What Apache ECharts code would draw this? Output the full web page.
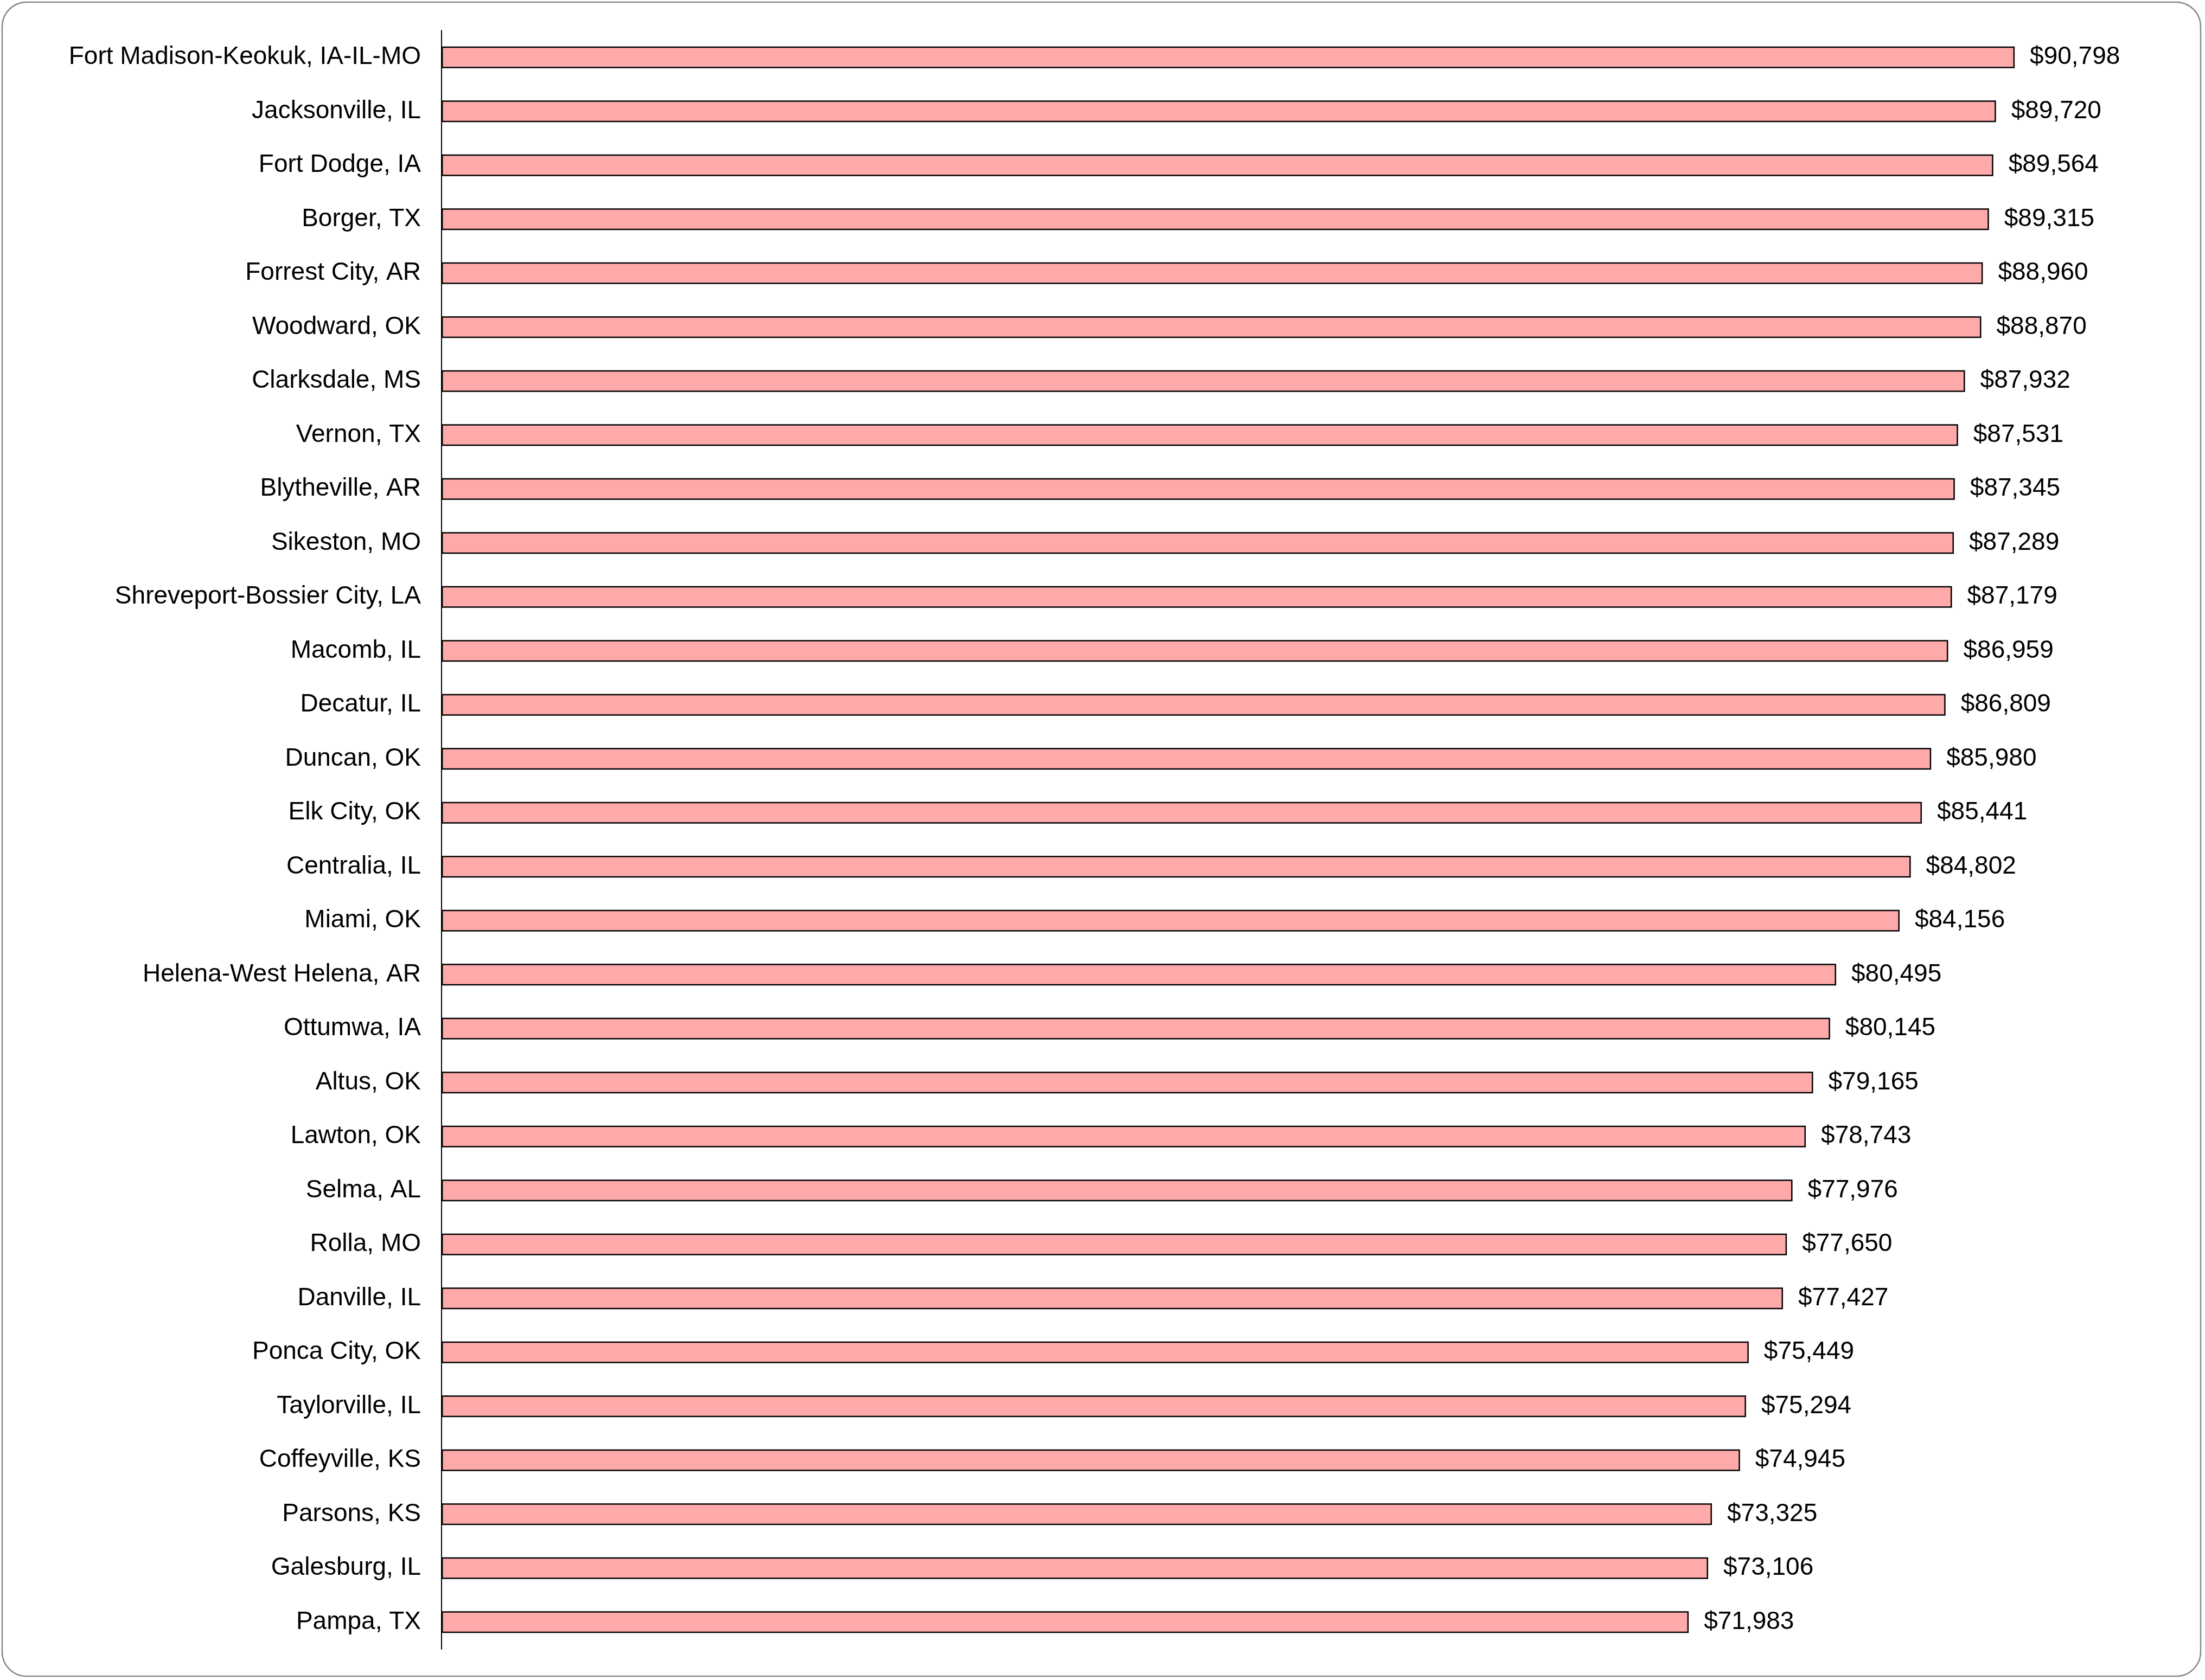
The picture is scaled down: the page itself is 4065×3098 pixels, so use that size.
<!DOCTYPE html>
<html>
<head>
<meta charset="utf-8">
<script src="https://cdn.jsdelivr.net/npm/echarts@6/dist/echarts.min.js"></script>
<style>
html,body{margin:0;padding:0;background:#fff;}
#chart{width:4065px;height:3098px;}
</style>
</head>
<body>
<div id="chart"></div>
<script>
const categories = [
  "Fort Madison-Keokuk, IA-IL-MO","Jacksonville, IL","Fort Dodge, IA","Borger, TX","Forrest City, AR",
  "Woodward, OK","Clarksdale, MS","Vernon, TX","Blytheville, AR","Sikeston, MO",
  "Shreveport-Bossier City, LA","Macomb, IL","Decatur, IL","Duncan, OK","Elk City, OK",
  "Centralia, IL","Miami, OK","Helena-West Helena, AR","Ottumwa, IA","Altus, OK",
  "Lawton, OK","Selma, AL","Rolla, MO","Danville, IL","Ponca City, OK",
  "Taylorville, IL","Coffeyville, KS","Parsons, KS","Galesburg, IL","Pampa, TX"
];
const values = [
  90798,89720,89564,89315,88960,
  88870,87932,87531,87345,87289,
  87179,86959,86809,85980,85441,
  84802,84156,80495,80145,79165,
  78743,77976,77650,77427,75449,
  75294,74945,73325,73106,71983
];

const chart = echarts.init(document.getElementById('chart'));
const fontFamily = '"Liberation Sans", Arial, Helvetica, sans-serif';
chart.setOption({
  animation: false,
  backgroundColor: '#ffffff',
  graphic: [{
    type: 'rect',
    shape: { x: 4, y: 4, width: 4053, height: 3087, r: 45 },
    style: { fill: 'none', stroke: '#8a8a8a', lineWidth: 2.5 },
    silent: true
  }],
  grid: { left: 814, right: 57, top: 56, bottom: 57, containLabel: false },
  xAxis: {
    type: 'value', min: 0, max: 100000, show: false,
    splitLine: { show: false }
  },
  yAxis: {
    type: 'category', data: categories, inverse: true,
    axisLine: { show: true, lineStyle: { color: '#000', width: 2 } },
    axisTick: { show: false },
    axisLabel: { color: '#000', fontSize: 46, fontFamily: fontFamily, margin: 38, padding: [6, 0, 0, 0] }
  },
  series: [{
    type: 'bar',
    data: values,
    barWidth: 40,
    itemStyle: { color: '#FFAAAA', borderColor: '#000', borderWidth: 2.5 },
    label: {
      show: true, position: 'right', distance: 28,
      color: '#000', fontSize: 46, fontFamily: fontFamily, padding: [6, 0, 0, 0],
      formatter: p => '$' + p.value.toLocaleString('en-US')
    }
  }]
});
</script>
</body>
</html>
